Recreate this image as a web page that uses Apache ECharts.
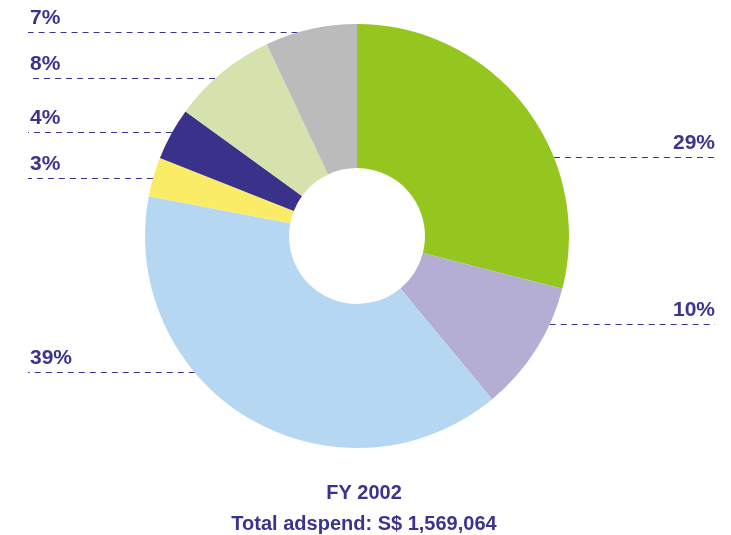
<!DOCTYPE html>
<html>
<head>
<meta charset="utf-8">
<script src="https://cdn.jsdelivr.net/npm/echarts@6/dist/echarts.min.js"></script>
<style>
  html, body { margin: 0; padding: 0; background: #fff; }
  #main { width: 731px; height: 535px; }
</style>
</head>
<body>
<div id="main"></div>
<script>
// slices, clockwise from 12 o'clock
var shares = [29, 10, 39, 3, 4, 8, 7];
var sliceColors = ['#95c51f', '#b4aed5', '#b6d7f2', '#fbec67', '#39318a', '#d5e2ae', '#bbbbbb'];
var yearText = 'FY 2002';
var totalText = 'Total adspend: S$ 1,569,064';

// layout of the dashed leader lines
var cx = 357, cy = 236, rIn = 68, rOut = 212;
var lineY = [157, 324, 372, 178, 132, 78, 32];
var leftX = 28, rightX = 715;
var navy = '#3b348f';

var chart = echarts.init(document.getElementById('main'));

var option = {
  backgroundColor: '#fff',
  animation: false,
  title: {
    text: yearText + '\n' + totalText,
    left: 359,
    top: 473,
    textAlign: 'center',
    textStyle: {
      fontFamily: 'Liberation Sans',
      fontWeight: 'bold',
      fontSize: 20,
      lineHeight: 31,
      color: navy
    }
  },
  series: [{
    type: 'pie',
    center: [cx, cy],
    radius: [rIn, rOut],
    startAngle: 90,
    clockwise: true,
    silent: true,
    data: shares.map(function (v, i) {
      return { value: v, itemStyle: { color: sliceColors[i] } };
    }),
    label: {
      show: true,
      position: 'outside',
      formatter: '{c}%',
      fontFamily: 'Liberation Sans',
      fontWeight: 'bold',
      fontSize: 21,
      color: navy
    },
    labelLine: {
      show: true,
      smooth: false,
      lineStyle: { color: '#3a3393', width: 1, type: [6, 5] }
    },
    labelLayout: function (params) {
      var i = params.dataIndex;
      var y = lineY[i] + 0.5; // crisp 1px line
      var dy = y - cy;
      var dx = Math.sqrt(Math.max(rOut * rOut - dy * dy, 0));
      var isLeft = params.labelLinePoints && params.labelLinePoints[0][0] < cx;
      if (isLeft) {
        var ex = cx - dx;
        return {
          x: leftX + 2,
          y: lineY[i] - 14,
          align: 'left',
          verticalAlign: 'middle',
          labelLinePoints: [[ex, y], [ex, y], [leftX, y]]
        };
      }
      var ex2 = cx + dx;
      return {
        x: rightX,
        y: lineY[i] - 14,
        align: 'right',
        verticalAlign: 'middle',
        labelLinePoints: [[ex2, y], [ex2, y], [rightX, y]]
      };
    }
  }]
};

chart.setOption(option);
</script>
</body>
</html>
